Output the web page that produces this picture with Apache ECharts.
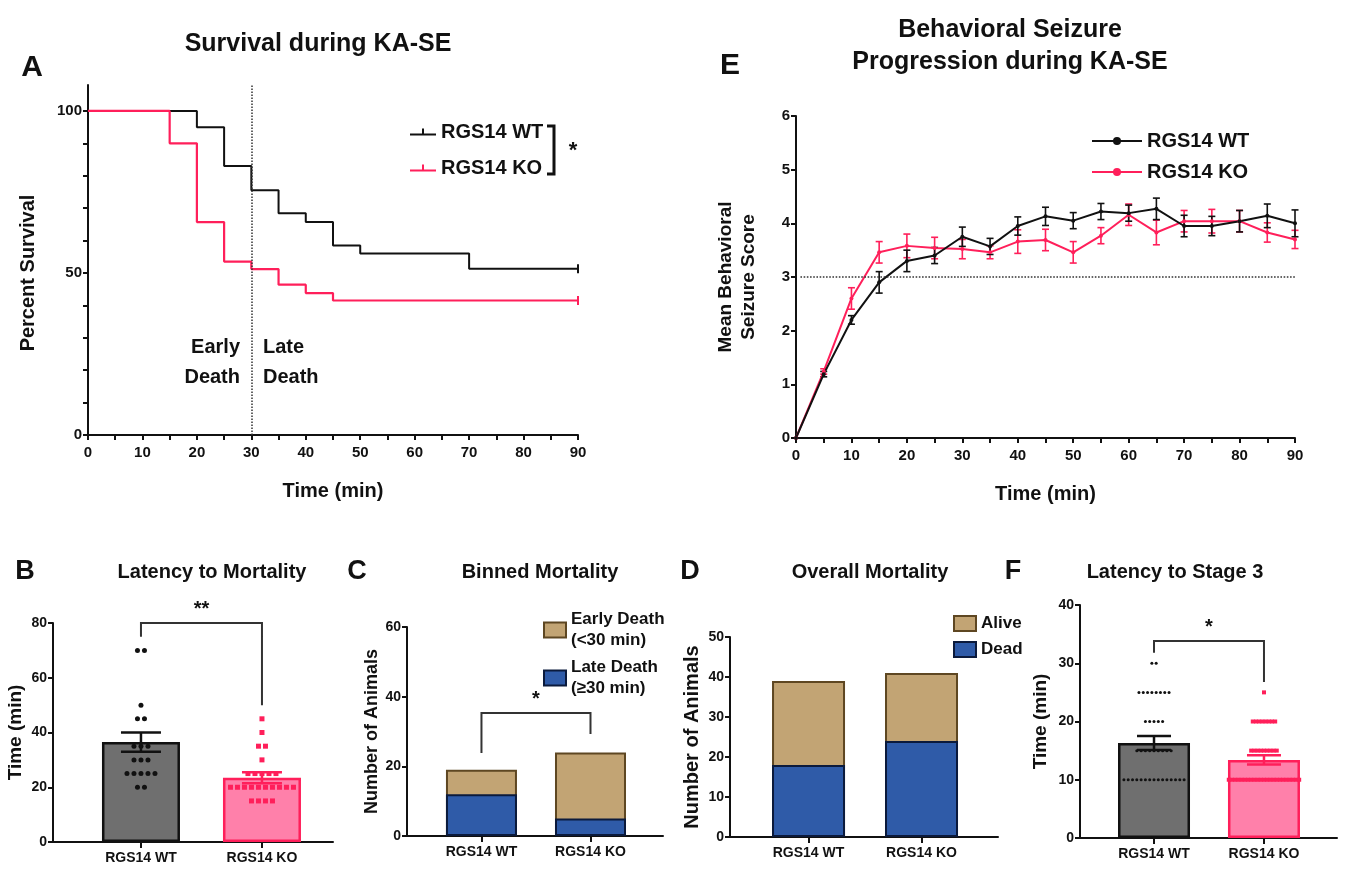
<!DOCTYPE html>
<html>
<head>
<meta charset="utf-8">
<script src="https://cdn.jsdelivr.net/npm/echarts@6/dist/echarts.min.js"></script>
<style>
  html, body { margin: 0; padding: 0; background: #fff; }
  #main { width: 1347px; height: 872px; }
</style>
</head>
<body>
<div id="main"></div>
<script>
// ---- data ----
var groups = ['RGS14 WT', 'RGS14 KO'];

// A: Kaplan-Meier survival (value holds from time until next time)
var survTimeWT = [0, 20, 25, 30, 35, 40, 45, 50, 70, 90];
var survWT = [100, 95, 83, 75.5, 68.4, 65.7, 58.5, 56, 51.3, 51.3];
var survTimeKO = [0, 15, 20, 25, 30, 35, 40, 45, 90];
var survKO = [100, 90, 65.7, 53.5, 51.2, 46.4, 43.8, 41.5, 41.5];

// E: behavioral seizure score
var scoreTime = [0, 5, 10, 15, 20, 25, 30, 35, 40, 45, 50, 55, 60, 65, 70, 75, 80, 85, 90];
var scoreWT = [0, 1.19, 2.2, 2.9, 3.3, 3.4, 3.75, 3.57, 3.95, 4.13, 4.05, 4.22, 4.19, 4.27, 3.95, 3.95, 4.04, 4.14, 4.0];
var semWT = [0, 0.05, 0.08, 0.2, 0.2, 0.15, 0.18, 0.15, 0.17, 0.17, 0.15, 0.15, 0.15, 0.2, 0.2, 0.18, 0.2, 0.22, 0.25];
var scoreKO = [0, 1.24, 2.6, 3.46, 3.58, 3.54, 3.52, 3.46, 3.66, 3.69, 3.46, 3.77, 4.16, 3.83, 4.04, 4.04, 4.04, 3.83, 3.7];
var semKO = [0, 0.05, 0.2, 0.2, 0.22, 0.2, 0.18, 0.12, 0.22, 0.2, 0.2, 0.15, 0.2, 0.23, 0.2, 0.22, 0.2, 0.18, 0.17];

// B: latency to mortality (min)
var latMortWT = [70, 70, 50, 45, 45, 35, 35, 35, 30, 30, 30, 25, 25, 25, 25, 25, 20, 20];
var latMortKO = [45, 40, 35, 35, 30, 25, 25, 25, 25, 25, 20, 20, 20, 20, 20, 20, 20, 20, 20, 20, 15, 15, 15, 15];
var latMortMean = [36.5, 23.5];
var latMortSem = [3.5, 2];

// C: binned mortality
var lateDeath = [12, 5];
var earlyDeath = [7, 19];

// D: overall mortality
var dead = [18, 24];
var alive = [21, 17];

// F: latency to stage 3 (min)
var stage3WT = [30, 30, 25, 25, 25, 25, 25, 25, 25, 25, 20, 20, 20, 20, 20,
  15, 15, 15, 15, 15, 15, 15, 15, 15,
  10, 10, 10, 10, 10, 10, 10, 10, 10, 10, 10, 10, 10, 10, 10];
var stage3KO = [25, 20, 20, 20, 20, 20, 20, 20, 20,
  15, 15, 15, 15, 15, 15, 15, 15, 15,
  10, 10, 10, 10, 10, 10, 10, 10, 10, 10, 10, 10, 10, 10, 10, 10, 10, 10, 10, 10, 10, 10, 10];
var stage3Mean = [16.3, 13.4];
var stage3Sem = [1.2, 0.8];

// ---- styling ----
var FONT = '"Liberation Sans", Arial, sans-serif';
var ink = '#111';
var red = '#ff1f5a';
var grey = '#6f6f6f';
var pink = '#ff80aa';
var tan = '#c2a474';
var tanEdge = '#5e4722';
var blue = '#2f5ba8';
var blueEdge = '#0b1a3c';
var barFill = [grey, pink];
var barEdge = [ink, red];

var chart = echarts.init(document.getElementById('main'));

function axisStyle(o) {
  var base = {
    axisLine: { show: true, onZero: false, lineStyle: { color: ink, width: 2 } },
    axisTick: { show: true, length: 5, lineStyle: { color: ink, width: 2 } },
    axisLabel: { color: ink, fontWeight: 'bold', fontSize: 14, fontFamily: FONT, margin: 6 },
    splitLine: { show: false },
    nameTextStyle: { color: ink, fontWeight: 'bold', fontSize: 18, fontFamily: FONT }
  };
  for (var k in o) {
    if (base[k] && typeof o[k] === 'object' && !Array.isArray(o[k])) {
      base[k] = Object.assign({}, base[k], o[k]);
    } else {
      base[k] = o[k];
    }
  }
  return base;
}

function timeAxis(gi) {
  return axisStyle({
    type: 'value', gridIndex: gi, min: 0, max: 90, interval: 5,
    axisLabel: { formatter: function (v) { return v % 10 === 0 ? v : ''; }, margin: 10, fontSize: 15 },
    name: 'Time (min)', nameLocation: 'middle', nameGap: 46,
    nameTextStyle: { fontSize: 20 }
  });
}

function groupAxis(gi, min, max) {
  return axisStyle({
    type: 'value', gridIndex: gi, min: min, max: max,
    axisTick: { customValues: [0, 1], length: 6 },
    axisLabel: { customValues: [0, 1], margin: 9, formatter: function (v) { return groups[Math.round(v)]; } }
  });
}

function stepData(t, v) {
  return t.map(function (x, i) {
    var d = { value: [x, v[i]] };
    if (i === t.length - 1) { d.symbol = 'rect'; d.symbolSize = [2, 9]; }
    return d;
  });
}

function lineData(v) {
  return scoreTime.map(function (x, i) { return [x, v[i]]; });
}

function errData(v, s) {
  return scoreTime.map(function (x, i) { return [x, v[i] - s[i], v[i] + s[i]]; });
}

function errRender(color) {
  return function (params, api) {
    var lo = api.coord([api.value(0), api.value(1)]);
    var hi = api.coord([api.value(0), api.value(2)]);
    if (Math.abs(lo[1] - hi[1]) < 0.5) return null;
    var w = 3.5;
    var st = { stroke: color, lineWidth: 1.6 };
    return {
      type: 'group', children: [
        { type: 'line', shape: { x1: lo[0], y1: lo[1], x2: hi[0], y2: hi[1] }, style: st },
        { type: 'line', shape: { x1: lo[0] - w, y1: lo[1], x2: lo[0] + w, y2: lo[1] }, style: st },
        { type: 'line', shape: { x1: hi[0] - w, y1: hi[1], x2: hi[0] + w, y2: hi[1] }, style: st }
      ]
    };
  };
}

// spread equal values side by side, like the prism dot plot
function swarm(values, xi) {
  var counts = {}, seen = {};
  values.forEach(function (v) { counts[v] = (counts[v] || 0) + 1; });
  return values.map(function (v) {
    var k = seen[v] || 0;
    seen[v] = k + 1;
    return [xi, v, k - (counts[v] - 1) / 2];
  });
}

function dotRender(spacing, size, shape, color) {
  return function (params, api) {
    var c = api.coord([api.value(0), api.value(1)]);
    var x = c[0] + api.value(2) * spacing;
    if (shape === 'circle') {
      return { type: 'circle', shape: { cx: x, cy: c[1], r: size / 2 }, style: { fill: color } };
    }
    return { type: 'rect', shape: { x: x - size / 2, y: c[1] - size / 2, width: size, height: size }, style: { fill: color } };
  };
}

function semRender(capHalf) {
  return function (params, api) {
    var i = params.dataIndex;
    var m = api.value(1), s = api.value(2);
    var lo = api.coord([api.value(0), m - s]);
    var hi = api.coord([api.value(0), m + s]);
    var st = { stroke: barEdge[i], lineWidth: 2.5 };
    return {
      type: 'group', children: [
        { type: 'line', shape: { x1: lo[0], y1: lo[1], x2: hi[0], y2: hi[1] }, style: st },
        { type: 'line', shape: { x1: lo[0] - capHalf, y1: lo[1], x2: lo[0] + capHalf, y2: lo[1] }, style: st },
        { type: 'line', shape: { x1: hi[0] - capHalf, y1: hi[1], x2: hi[0] + capHalf, y2: hi[1] }, style: st }
      ]
    };
  };
}

function bracketRender(star) {
  return function (params, api) {
    var a = api.coord([api.value(0), api.value(2)]);
    var b = api.coord([api.value(1), api.value(2)]);
    var l = api.coord([api.value(0), api.value(3)]);
    var r = api.coord([api.value(1), api.value(4)]);
    return {
      type: 'group', children: [
        { type: 'polyline', shape: { points: [[l[0], l[1]], [a[0], a[1]], [b[0], b[1]], [r[0], r[1]]] },
          style: { stroke: '#333', lineWidth: 2, fill: null } },
        { type: 'text', x: (a[0] + b[0]) / 2, y: a[1] - 4,
          style: { text: star, font: 'bold 20px ' + FONT, fill: ink, align: 'center', verticalAlign: 'bottom' } }
      ]
    };
  };
}

function meanBars(means, xi, width) {
  return {
    type: 'bar', xAxisIndex: xi, yAxisIndex: xi, barWidth: width, z: 2,
    data: means.map(function (m, i) {
      return { value: [i, m], itemStyle: { color: barFill[i], borderColor: barEdge[i], borderWidth: 2.5 } };
    })
  };
}

// two-part bars: the upper part is drawn as the full total, the lower part over it
function partBar(name, vals, xi, width, fill, edge, z) {
  return {
    name: name, type: 'bar', xAxisIndex: xi, yAxisIndex: xi, barWidth: width, barGap: '-100%', z: z,
    itemStyle: { color: fill, borderColor: edge, borderWidth: 2 },
    data: vals.map(function (v, i) { return [i, v]; })
  };
}

function sum(a, b) {
  return a.map(function (v, i) { return v + b[i]; });
}

function txt(x, y, s, size) {
  return { type: 'text', x: x, y: y,
    style: { text: s, font: 'bold ' + size + 'px ' + FONT, fill: ink, align: 'center', verticalAlign: 'middle' } };
}

var legendText = { color: ink, fontWeight: 'bold', fontSize: 20, fontFamily: FONT };
var iconA = 'path://M0,7H26V9H0Z M12,2H14V7H12Z';

var option = {
  backgroundColor: '#fff',
  animation: false,
  grid: [
    { left: 88, top: 85, width: 490, height: 350 },   // A
    { left: 796, top: 116, width: 499, height: 322 }, // E
    { left: 53, top: 623, width: 280, height: 219 },  // B
    { left: 407, top: 627, width: 256, height: 209 }, // C
    { left: 730, top: 637, width: 268, height: 200 }, // D
    { left: 1080, top: 605, width: 257, height: 233 } // F
  ],
  xAxis: [
    timeAxis(0),
    timeAxis(1),
    groupAxis(2, -0.727, 1.587),
    groupAxis(3, -0.683, 1.665),
    groupAxis(4, -0.695, 1.677),
    groupAxis(5, -0.673, 1.664)
  ],
  yAxis: [
    axisStyle({ type: 'value', gridIndex: 0, min: 0, max: 108,
      axisLabel: { customValues: [0, 50, 100], fontSize: 15 },
      axisTick: { customValues: [0, 10, 20, 30, 40, 50, 60, 70, 80, 90, 100] },
      name: 'Percent Survival', nameLocation: 'middle', nameGap: 50,
      nameTextStyle: { fontSize: 20, padding: [0, 26, 0, 0] } }),
    axisStyle({ type: 'value', gridIndex: 1, min: 0, max: 6, interval: 1,
      axisLabel: { fontSize: 15 },
      name: 'Mean Behavioral\nSeizure Score', nameLocation: 'middle', nameGap: 36,
      nameTextStyle: { fontSize: 19, lineHeight: 23 } }),
    axisStyle({ type: 'value', gridIndex: 2, min: 0, max: 80, interval: 20,
      name: 'Time (min)', nameLocation: 'middle', nameGap: 28,
      nameTextStyle: { fontSize: 19 } }),
    axisStyle({ type: 'value', gridIndex: 3, min: 0, max: 60, interval: 20,
      name: 'Number of Animals', nameLocation: 'middle', nameGap: 24 }),
    axisStyle({ type: 'value', gridIndex: 4, min: 0, max: 50, interval: 10,
      name: 'Number of Animals', nameLocation: 'middle', nameGap: 28,
      nameTextStyle: { fontSize: 20 } }),
    axisStyle({ type: 'value', gridIndex: 5, min: 0, max: 40, interval: 10,
      name: 'Time (min)', nameLocation: 'middle', nameGap: 30,
      nameTextStyle: { fontSize: 19 } })
  ],
  legend: [
    { left: 405, top: 117, orient: 'vertical', itemGap: 16, itemWidth: 26, itemHeight: 10,
      selectedMode: false, textStyle: legendText,
      data: [{ name: 'RGS14 WT', icon: iconA }, { name: 'RGS14 KO', icon: iconA }] },
    { left: 1086, top: 126, orient: 'vertical', itemGap: 11, itemWidth: 50, itemHeight: 10,
      selectedMode: false, textStyle: legendText,
      formatter: function (n) { return n.replace(' (E)', ''); },
      data: ['RGS14 WT (E)', 'RGS14 KO (E)'] },
    { left: 538, top: 604, orient: 'vertical', itemGap: 6, itemWidth: 22, itemHeight: 15, icon: 'rect',
      selectedMode: false, itemStyle: { borderWidth: 2 },
      textStyle: { color: ink, fontWeight: 'bold', fontSize: 17, fontFamily: FONT, lineHeight: 21 },
      data: ['Early Death\n(<30 min)', 'Late Death\n(≥30 min)'] },
    { left: 948, top: 610, orient: 'vertical', itemGap: 9, itemWidth: 22, itemHeight: 15, icon: 'rect',
      selectedMode: false, itemStyle: { borderWidth: 2 },
      textStyle: { color: ink, fontWeight: 'bold', fontSize: 17, fontFamily: FONT },
      data: ['Alive', 'Dead'] }
  ],
  series: [
    // A
    { name: 'RGS14 WT', type: 'line', step: 'end', xAxisIndex: 0, yAxisIndex: 0,
      symbol: 'none', showSymbol: true, lineStyle: { color: ink, width: 2 }, itemStyle: { color: ink },
      data: stepData(survTimeWT, survWT),
      markLine: { silent: true, symbol: ['none', 'none'], label: { show: false },
        lineStyle: { type: 'dotted', color: '#333', width: 1.5 }, data: [{ xAxis: 30 }] } },
    { name: 'RGS14 KO', type: 'line', step: 'end', xAxisIndex: 0, yAxisIndex: 0,
      symbol: 'none', showSymbol: true, lineStyle: { color: red, width: 2.2 }, itemStyle: { color: red },
      data: stepData(survTimeKO, survKO) },
    // E
    { name: 'RGS14 KO (E)', type: 'line', xAxisIndex: 1, yAxisIndex: 1, symbol: 'circle', symbolSize: 4,
      lineStyle: { color: red, width: 2 }, itemStyle: { color: red }, data: lineData(scoreKO) },
    { type: 'custom', xAxisIndex: 1, yAxisIndex: 1, renderItem: errRender(red), data: errData(scoreKO, semKO),
      encode: { x: 0, y: [1, 2] } },
    { name: 'RGS14 WT (E)', type: 'line', xAxisIndex: 1, yAxisIndex: 1, symbol: 'circle', symbolSize: 4,
      lineStyle: { color: ink, width: 2 }, itemStyle: { color: ink }, data: lineData(scoreWT),
      markLine: { silent: true, symbol: ['none', 'none'], label: { show: false },
        lineStyle: { type: 'dotted', color: '#333', width: 1.6 },
        data: [[{ coord: [0.8, 3] }, { coord: [90, 3] }]] } },
    { type: 'custom', xAxisIndex: 1, yAxisIndex: 1, renderItem: errRender(ink), data: errData(scoreWT, semWT),
      encode: { x: 0, y: [1, 2] } },
    // B
    meanBars(latMortMean, 2, 78),
    { type: 'custom', xAxisIndex: 2, yAxisIndex: 2, z: 3, renderItem: dotRender(7, 5, 'circle', ink),
      data: swarm(latMortWT, 0), encode: { x: 0, y: 1 } },
    { type: 'custom', xAxisIndex: 2, yAxisIndex: 2, z: 3, renderItem: dotRender(7, 5, 'rect', red),
      data: swarm(latMortKO, 1), encode: { x: 0, y: 1 } },
    { type: 'custom', xAxisIndex: 2, yAxisIndex: 2, z: 4, renderItem: semRender(20),
      data: latMortMean.map(function (m, i) { return [i, m, latMortSem[i]]; }), encode: { x: 0, y: 1 } },
    { type: 'custom', xAxisIndex: 2, yAxisIndex: 2, z: 4, renderItem: bracketRender('**'),
      data: [[0, 1, 80, 75, 50]], encode: { x: [0, 1], y: [2, 3, 4] } },
    // C
    partBar('Early Death\n(<30 min)', sum(lateDeath, earlyDeath), 3, 71, tan, tanEdge, 2),
    partBar('Late Death\n(≥30 min)', lateDeath, 3, 71, blue, blueEdge, 3),
    { type: 'custom', xAxisIndex: 3, yAxisIndex: 3, z: 4, renderItem: bracketRender('*'),
      data: [[0, 1, 35.3, 23.8, 29.3]], encode: { x: [0, 1], y: [2, 3, 4] } },
    // D
    partBar('Alive', sum(dead, alive), 4, 73, tan, tanEdge, 2),
    partBar('Dead', dead, 4, 73, blue, blueEdge, 3),
    // F
    meanBars(stage3Mean, 5, 72),
    { type: 'custom', xAxisIndex: 5, yAxisIndex: 5, z: 3, renderItem: dotRender(4.3, 3, 'circle', ink),
      data: swarm(stage3WT, 0), encode: { x: 0, y: 1 } },
    { type: 'custom', xAxisIndex: 5, yAxisIndex: 5, z: 3, renderItem: dotRender(3.2, 4, 'rect', red),
      data: swarm(stage3KO, 1), encode: { x: 0, y: 1 } },
    { type: 'custom', xAxisIndex: 5, yAxisIndex: 5, z: 4, renderItem: semRender(17),
      data: stage3Mean.map(function (m, i) { return [i, m, stage3Sem[i]]; }), encode: { x: 0, y: 1 } },
    { type: 'custom', xAxisIndex: 5, yAxisIndex: 5, z: 4, renderItem: bracketRender('*'),
      data: [[0, 1, 33.8, 31.8, 26.8]], encode: { x: [0, 1], y: [2, 3, 4] } }
  ],
  graphic: [
    txt(318, 44, 'Survival during KA-SE', 25),
    txt(32, 68, 'A', 30),
    txt(1010, 30, 'Behavioral Seizure', 25),
    txt(1010, 62, 'Progression during KA-SE', 25),
    txt(730, 66, 'E', 30),
    txt(212, 572, 'Latency to Mortality', 20),
    txt(25, 572, 'B', 27),
    txt(540, 572, 'Binned Mortality', 20),
    txt(357, 572, 'C', 27),
    txt(870, 572, 'Overall Mortality', 20),
    txt(690, 572, 'D', 27),
    txt(1175, 572, 'Latency to Stage 3', 20),
    txt(1013, 572, 'F', 27),
    // Early / Late death labels in A
    { type: 'text', x: 240, y: 362, style: { text: 'Early\nDeath', font: 'bold 20px ' + FONT, fill: ink,
      align: 'right', verticalAlign: 'middle', lineHeight: 30 } },
    { type: 'text', x: 263, y: 362, style: { text: 'Late\nDeath', font: 'bold 20px ' + FONT, fill: ink,
      align: 'left', verticalAlign: 'middle', lineHeight: 30 } },
    // significance bracket beside the A legend
    { type: 'polyline', shape: { points: [[547, 126], [554, 126], [554, 174], [547, 174]] },
      style: { stroke: ink, lineWidth: 3, fill: null } },
    txt(573, 151, '*', 22)
  ]
};

chart.setOption(option);
</script>
</body>
</html>
